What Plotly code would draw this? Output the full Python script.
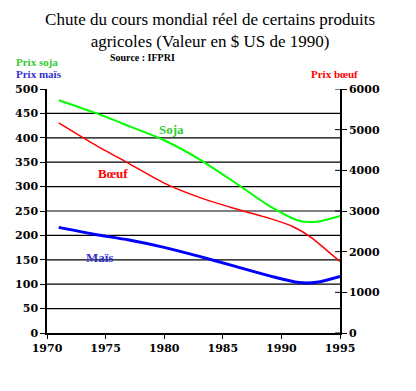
import plotly.graph_objects as go

# Data
soja_years = [1971, 1974, 1977, 1980, 1983, 1986, 1989, 1991.5, 1993, 1995]
soja_prix = [477, 452, 424, 395, 356, 309, 260, 230, 228, 240]

mais_years = [1971, 1974, 1977, 1980, 1983, 1986, 1989, 1991.5, 1993, 1995]
mais_prix = [216.5, 202.5, 190.5, 175.5, 157, 137, 117, 103.5, 104, 116]

boeuf_years = [1971, 1974, 1977, 1980, 1983, 1986, 1989, 1991, 1992.5, 1994, 1995]
boeuf_prix = [5168, 4646, 4165, 3687, 3335, 3062, 2818, 2614, 2360, 2000, 1760]

x_ticks = [1970, 1975, 1980, 1985, 1990, 1995]
left_ticks = [0, 50, 100, 150, 200, 250, 300, 350, 400, 450, 500]
grid_vals = [50, 100, 150, 200, 250, 300, 350, 400, 450]
right_ticks = [0, 1000, 2000, 3000, 4000, 5000, 6000]

TICKFONT = dict(family="DejaVu Serif", size=11, color="black", weight="bold")

fig = go.Figure()
fig.add_trace(go.Scatter(x=soja_years, y=soja_prix, mode="lines", line=dict(color="#00ff00", width=2, shape="spline", smoothing=0.8), yaxis="y"))
fig.add_trace(go.Scatter(x=mais_years, y=mais_prix, mode="lines", line=dict(color="#0000ff", width=3, shape="spline", smoothing=0.8), yaxis="y"))
fig.add_trace(go.Scatter(x=boeuf_years, y=boeuf_prix, mode="lines", line=dict(color="#ff0000", width=1.5, shape="spline", smoothing=0.8), yaxis="y2"))

fig.update_layout(
    width=416, height=391,
    margin=dict(l=47, r=76, t=89, b=58),
    paper_bgcolor="white", plot_bgcolor="white",
    showlegend=False,
    title=dict(
        text="Chute du cours mondial réel de certains produits<br>agricoles (Valeur en $ US de 1990)",
        x=0.505, xref="container", xanchor="center",
        y=1 - 25 / 391, yref="container", yanchor="middle",
        font=dict(family="Liberation Serif", size=17, color="black"),
    ),
    xaxis=dict(
        range=[1970, 1995], tickvals=x_ticks, ticks="outside", ticklen=4, tickcolor="black",
        showline=True, linecolor="black", linewidth=1.5, showgrid=False, zeroline=False,
        tickfont=TICKFONT,
    ),
    yaxis=dict(
        range=[0, 500], tickvals=left_ticks, ticks="outside", ticklen=5, tickcolor="black",
        showline=True, linecolor="black", linewidth=1.5,
        showgrid=False, zeroline=False,
        tickfont=TICKFONT,
    ),
    yaxis2=dict(
        range=[0, 6000], tickvals=right_ticks, ticks="outside", ticklen=5, tickcolor="black",
        overlaying="y", side="right", showline=True, linecolor="black", linewidth=1.5,
        showgrid=False, zeroline=False, tickfont=TICKFONT,
    ),
)

# horizontal gridlines (left axis) and inner half of the right-axis cross ticks
for v in grid_vals:
    fig.add_shape(type="line", xref="paper", yref="y", x0=0, x1=1, y0=v, y1=v,
                  line=dict(color="black", width=1.2), layer="below")
for v in right_ticks:
    fig.add_shape(type="line", xref="paper", yref="y2", x0=1 - 5 / 293, x1=1, y0=v, y1=v,
                  line=dict(color="black", width=1), layer="above")

ann_font = lambda c, s=11: dict(family="Liberation Serif", size=s, color=c, weight="bold")
fig.add_annotation(text="Prix soja", x=-0.1126, y=1.1107, xref="paper", yref="paper", xanchor="left", yanchor="middle", showarrow=False, font=ann_font("#33cc33"))
fig.add_annotation(text="Prix maïs", x=-0.1126, y=1.0615, xref="paper", yref="paper", xanchor="left", yanchor="middle", showarrow=False, font=ann_font("#3333cc"))
fig.add_annotation(text="Prix bœuf", x=0.894, y=1.0615, xref="paper", yref="paper", xanchor="left", yanchor="middle", showarrow=False, font=ann_font("#ff0000"))
fig.add_annotation(text="Source : IFPRI", x=0.208, y=1.131, xref="paper", yref="paper", xanchor="left", yanchor="middle", showarrow=False, font=ann_font("black", 10))

fig.add_annotation(text="Soja", x=1980.6, y=416, xref="x", yref="y", showarrow=False, font=ann_font("#33cc33", 13))
fig.add_annotation(text="Bœuf", x=1975.6, y=326, xref="x", yref="y", showarrow=False, font=ann_font("#ff0000", 13))
fig.add_annotation(text="Maïs", x=1974.5, y=154, xref="x", yref="y", showarrow=False, font=ann_font("#3333cc", 13))

fig.write_html("out.html", config={"displayModeBar": False},
               post_script="document.body.style.margin='0';")
